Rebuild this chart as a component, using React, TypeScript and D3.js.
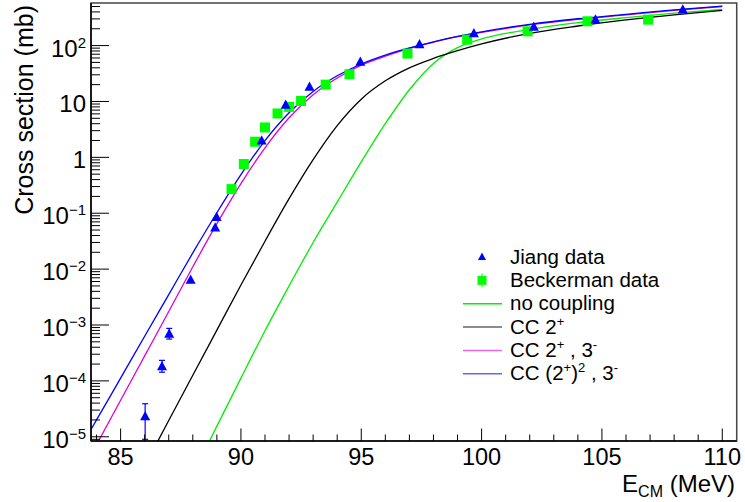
import React, { useEffect, useRef } from "react";
import * as d3 from "d3";

const W = 745;
const H = 502;
const FONT = "Liberation Sans, Arial, Helvetica, sans-serif";

// Jiang data (E_CM in MeV, cross section in mb)
const jiangE = [86.02, 86.72, 87.02, 87.91, 88.93, 88.99, 90.86, 91.86, 92.85, 94.96, 97.42, 99.68, 102.17, 104.73, 108.36];
const jiangXS = [2.3e-5, 1.8e-4, 6.9e-4, 6.4e-3, 0.055, 0.085, 1.98, 8.6, 18.2, 51, 105, 164, 215, 291, 439];
const jiangErrUp = [1.6e-5, 5.3e-5, 1.8e-4, 0, 0, 0, 0, 0, 0, 0, 0, 0, 0, 0, 0];
const jiangErrDown = [1.4e-5, 3.7e-5, 1.3e-4, 0, 0, 0, 0, 0, 0, 0, 0, 0, 0, 0, 0];

// Beckerman data
const beckE = [89.61, 90.12, 90.59, 91.0, 91.52, 92.0, 92.5, 93.52, 94.51, 96.92, 99.4, 101.91, 104.4, 106.92];
const beckXS = [0.27, 0.76, 1.9, 3.43, 6.1, 8.0, 10.2, 20, 30.7, 72, 128, 180, 272, 291];

// calculations
const fullE = [83.5, 84, 85, 86, 87, 88, 89, 90, 91, 92, 93, 94, 95, 96, 97, 98, 99, 100, 102, 104, 106, 108, 110];
const fullXS = [8.5e-6, 2.0e-5, 1.12e-4, 6.3e-4, 3.5e-3, 0.0195, 0.102, 0.49, 2.0, 6.3, 15.1, 28.8, 46.8, 67.6, 91, 117, 146, 176, 240, 302, 363, 437, 509];

const cc23E = [84, 85, 86, 87, 88, 89, 90, 91, 92, 93, 94, 95, 96, 97, 98, 99, 100, 102, 104, 106, 108, 110];
const cc23XS = [7.2e-6, 4.5e-5, 2.8e-4, 1.74e-3, 0.011, 0.065, 0.34, 1.48, 5.1, 13.2, 26.3, 44.7, 64.6, 89, 115, 144, 172, 234, 295, 355, 427, 501];

const cc2E = [86, 87, 88, 89, 90, 91, 92, 93, 94, 95, 96, 97, 98, 99, 100, 102, 104, 106, 108, 110];
const cc2XS = [3.0e-6, 1.95e-5, 1.26e-4, 8.1e-4, 5.2e-3, 0.0316, 0.182, 0.91, 3.7, 11.0, 23.4, 40, 59, 81, 107, 166, 224, 288, 355, 427];

const noCoupE = [88, 89, 90, 91, 92, 93, 94, 95, 96, 97, 98, 99, 100, 102, 104, 106, 108, 110];
const noCoupXS = [2.1e-6, 1.55e-5, 1.12e-4, 7.9e-4, 5.0e-3, 0.03, 0.158, 0.83, 4.0, 16.2, 48, 92, 132, 195, 257, 316, 380, 442];

const xMajor = [85, 90, 95, 100, 105, 110];

export default function App() {
  const svgRef = useRef<SVGSVGElement>(null);

  useEffect(() => {
    const svg = d3.select(svgRef.current);
    svg.selectAll("*").remove();

    const left = 91, right = 736.7, top = 3, bottom = 441;
    const x = d3.scaleLinear().domain([83.77, 110.6]).range([left, right]);
    const y = d3.scaleLog().domain([8.4e-6, 578]).range([bottom, top]);

    svg.append("rect").attr("width", W).attr("height", H).attr("fill", "#fff");

    svg.append("defs").append("clipPath").attr("id", "plotclip")
      .append("rect").attr("x", left).attr("y", top).attr("width", right - left).attr("height", bottom - top);

    // frame
    svg.append("rect")
      .attr("x", left).attr("y", top).attr("width", right - left).attr("height", bottom - top)
      .attr("fill", "none").attr("stroke", "#444").attr("stroke-width", 1.5);

    // curves
    const line = d3.line<[number, number]>()
      .x(d => x(d[0]))
      .y(d => y(d[1]))
      .curve(d3.curveMonotoneX);

    const curves = [
      { e: noCoupE, v: noCoupXS, color: "#00ee00" },
      { e: cc2E, v: cc2XS, color: "#000000" },
      { e: cc23E, v: cc23XS, color: "#dd00dd" },
      { e: fullE, v: fullXS, color: "#0000ff" },
    ];
    const cg = svg.append("g").attr("clip-path", "url(#plotclip)");
    curves.forEach(c => {
      cg.append("path")
        .attr("d", line(c.e.map((e, i) => [e, c.v[i]] as [number, number])))
        .attr("fill", "none")
        .attr("stroke", c.color)
        .attr("stroke-width", 1.3);
    });

    // Beckerman squares
    beckE.forEach((e, i) => {
      cg.append("rect")
        .attr("x", x(e) - 5).attr("y", y(beckXS[i]) - 5)
        .attr("width", 10).attr("height", 10)
        .attr("fill", "#00ff00");
    });

    // Jiang triangles + error bars
    const tri = (cx: number, cy: number, s: number) =>
      `M${cx},${cy - s * 1.1}L${cx + s},${cy + s * 0.75}L${cx - s},${cy + s * 0.75}Z`;
    jiangE.forEach((e, i) => {
      const cx = x(e), cy = y(jiangXS[i]);
      if (jiangErrUp[i] > 0) {
        const y1 = y(jiangXS[i] + jiangErrUp[i]);
        const y2 = y(jiangXS[i] - jiangErrDown[i]);
        cg.append("line").attr("x1", cx).attr("x2", cx).attr("y1", y1).attr("y2", y2)
          .attr("stroke", "#0000ff").attr("stroke-width", 1.2);
        [y1, y2].forEach(yy => cg.append("line")
          .attr("x1", cx - 3).attr("x2", cx + 3).attr("y1", yy).attr("y2", yy)
          .attr("stroke", "#0000ff").attr("stroke-width", 1.2));
      }
      cg.append("path").attr("d", tri(cx, cy, 5)).attr("fill", "#0000ff");
    });

    // axes lines
    svg.append("line").attr("x1", left).attr("x2", left).attr("y1", top).attr("y2", bottom)
      .attr("stroke", "#000").attr("stroke-width", 1.5);
    svg.append("line").attr("x1", left).attr("x2", right).attr("y1", bottom).attr("y2", bottom)
      .attr("stroke", "#000").attr("stroke-width", 1.5);

    // x ticks
    const [ex0, ex1] = x.domain();
    d3.range(Math.ceil(ex0), Math.floor(ex1) + 1).forEach(v => {
      const major = v % 5 === 0;
      svg.append("line")
        .attr("x1", x(v)).attr("x2", x(v))
        .attr("y1", bottom).attr("y2", bottom - (major ? 12.5 : 6.5))
        .attr("stroke", "#000").attr("stroke-width", 1);
    });
    xMajor.forEach(v => {
      svg.append("text")
        .attr("x", x(v)).attr("y", 465)
        .attr("text-anchor", "middle")
        .attr("font-family", FONT).attr("font-size", 23.5)
        .text(String(v));
    });

    // y ticks
    for (let n = -6; n <= 2; n++) {
      for (let k = 1; k <= 9; k++) {
        const v = k * Math.pow(10, n);
        if (v < y.domain()[0] || v > y.domain()[1]) continue;
        svg.append("line")
          .attr("x1", left).attr("x2", left + (k === 1 ? 18 : 9))
          .attr("y1", y(v)).attr("y2", y(v))
          .attr("stroke", "#000").attr("stroke-width", 1);
      }
      const v = Math.pow(10, n);
      if (v < y.domain()[0]) continue;
      const t = svg.append("text")
        .attr("x", 86).attr("y", y(v) + 11)
        .attr("text-anchor", "end")
        .attr("font-family", FONT).attr("font-size", 24);
      if (n === 0) t.text("1");
      else if (n === 1) t.text("10");
      else {
        t.append("tspan").text("10");
        t.append("tspan").attr("dy", -9).attr("font-size", 15)
          .text(n < 0 ? `\u2212${-n}` : String(n));
      }
    }

    // axis titles
    svg.append("text")
      .attr("transform", "rotate(-90)")
      .attr("x", -5).attr("y", 33)
      .attr("text-anchor", "end")
      .attr("font-family", FONT).attr("font-size", 25)
      .text("Cross section (mb)");

    const xt = svg.append("text")
      .attr("x", 735).attr("y", 492)
      .attr("text-anchor", "end")
      .attr("font-family", FONT).attr("font-size", 24);
    xt.append("tspan").text("E");
    xt.append("tspan").attr("dy", 5).attr("font-size", 16).text("CM");
    xt.append("tspan").attr("dy", -5).text(" (MeV)");

    // legend
    const lx = 482, tx = 510;
    const rowY = (i: number) => 257 + i * 23.35;
    svg.append("path").attr("d", tri(lx, rowY(0), 4)).attr("fill", "#0000ff");
    svg.append("rect").attr("x", lx - 4.5).attr("y", rowY(1) - 4.5).attr("width", 9).attr("height", 9).attr("fill", "#00ff00");
    svg.append("line").attr("x1", lx).attr("x2", lx).attr("y1", rowY(1) - 7).attr("y2", rowY(1) + 7)
      .attr("stroke", "#00ff00").attr("stroke-width", 1);
    curves.forEach((c, i) => {
      svg.append("line")
        .attr("x1", 463).attr("x2", 502)
        .attr("y1", rowY(i + 2)).attr("y2", rowY(i + 2))
        .attr("stroke", c.color).attr("stroke-width", 1.5).attr("opacity", i === 0 ? 1 : 0.6);
    });

    const legendText = (i: number) => svg.append("text")
      .attr("x", tx).attr("y", rowY(i) + 6.5)
      .attr("font-family", FONT).attr("font-size", 20.5);
    legendText(0).text("Jiang data");
    legendText(1).text("Beckerman data");
    legendText(2).text("no coupling");
    const l3 = legendText(3);
    l3.append("tspan").text("CC 2");
    l3.append("tspan").attr("dy", -8).attr("font-size", 13).text("+");
    const l4 = legendText(4);
    l4.append("tspan").text("CC 2");
    l4.append("tspan").attr("dy", -8).attr("font-size", 13).text("+");
    l4.append("tspan").attr("dy", 8).text(" , 3");
    l4.append("tspan").attr("dy", -8).attr("font-size", 13).text("-");
    const l5 = legendText(5);
    l5.append("tspan").text("CC (2");
    l5.append("tspan").attr("dy", -8).attr("font-size", 13).text("+");
    l5.append("tspan").attr("dy", 8).text(")");
    l5.append("tspan").attr("dy", -8).attr("font-size", 13).text("2");
    l5.append("tspan").attr("dy", 8).text(" , 3");
    l5.append("tspan").attr("dy", -8).attr("font-size", 13).text("-");
  }, []);

  return (
    <svg
      ref={svgRef}
      width={W}
      height={H}
      style={{ position: "absolute", left: 0, top: 0, display: "block" }}
    />
  );
}
